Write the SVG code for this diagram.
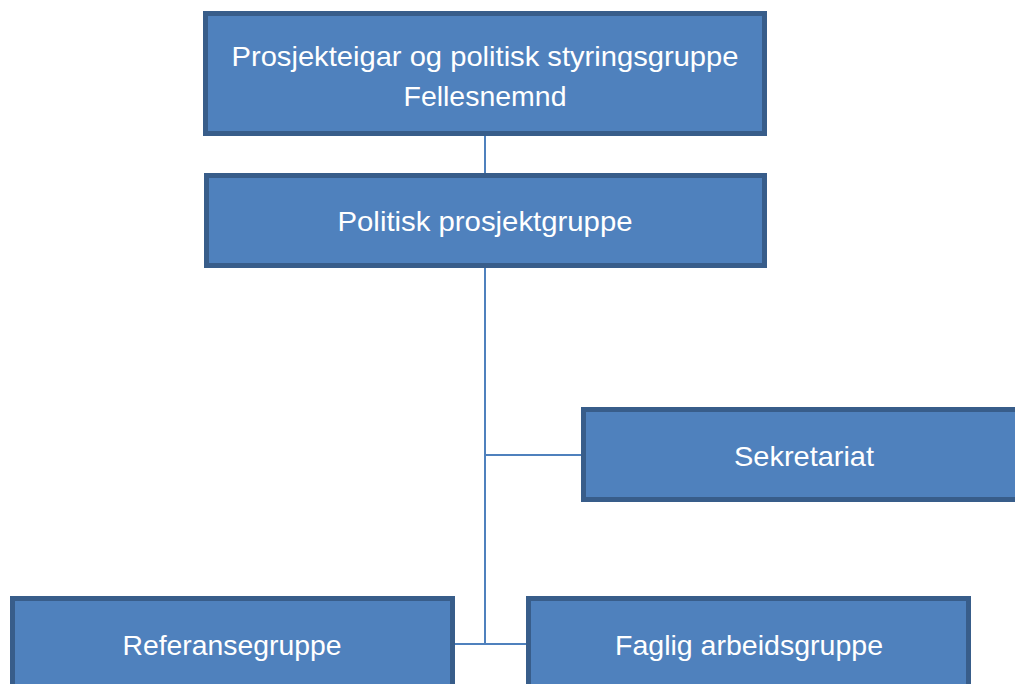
<svg xmlns="http://www.w3.org/2000/svg" width="1015" height="684" viewBox="0 0 1015 684">
<style>
.box{fill:#4F81BD;stroke:#385D8A;stroke-width:5}
.t{fill:#FFFFFF;font-family:"Liberation Sans",Arial,sans-serif;font-size:28px;text-anchor:middle}
.c{stroke:#4F81BD;stroke-width:2;fill:none}
</style>
<rect width="1015" height="684" fill="#FFFFFF"/>
<g id="connectors">
<line class="c" x1="485" y1="136" x2="485" y2="173"/>
<line class="c" x1="485" y1="268" x2="485" y2="644"/>
<line class="c" x1="485" y1="455" x2="581" y2="455"/>
<line class="c" x1="455" y1="644" x2="526" y2="644"/>
</g>
<g id="node-prosjekteigar">
<rect class="box" x="205.5" y="13.5" width="559" height="120"/>
<text class="t" x="485" y="66" textLength="507" lengthAdjust="spacingAndGlyphs">Prosjekteigar og politisk styringsgruppe</text>
<text class="t" x="485" y="106" textLength="163" lengthAdjust="spacingAndGlyphs">Fellesnemnd</text>
</g>
<g id="node-politisk">
<rect class="box" x="206.5" y="175.5" width="558" height="90"/>
<text class="t" x="485" y="231" textLength="295" lengthAdjust="spacingAndGlyphs">Politisk prosjektgruppe</text>
</g>
<g id="node-sekretariat">
<rect class="box" x="583.5" y="409.5" width="445" height="90"/>
<text class="t" x="804" y="466" textLength="140" lengthAdjust="spacingAndGlyphs">Sekretariat</text>
</g>
<g id="node-referansegruppe">
<rect class="box" x="12.5" y="598.5" width="440" height="110"/>
<text class="t" x="232" y="655" textLength="219" lengthAdjust="spacingAndGlyphs">Referansegruppe</text>
</g>
<g id="node-faglig">
<rect class="box" x="528.5" y="598.5" width="440" height="110"/>
<text class="t" x="749" y="655" textLength="268" lengthAdjust="spacingAndGlyphs">Faglig arbeidsgruppe</text>
</g>
</svg>
